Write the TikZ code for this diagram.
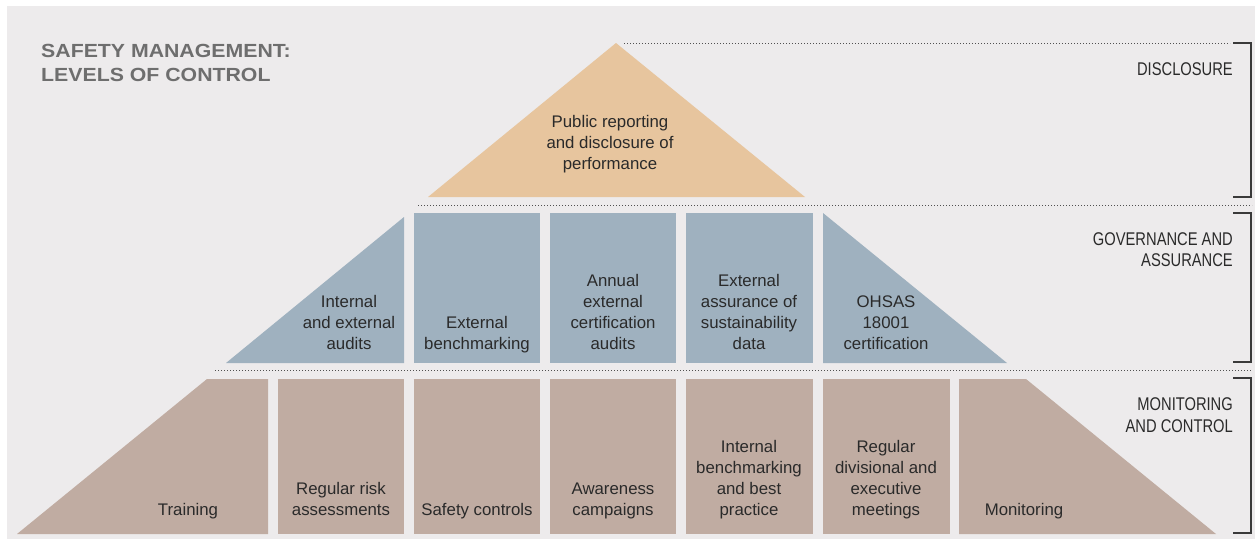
\documentclass[tikz,border=0pt]{standalone}
\usepackage{fontspec}
\setmainfont{Liberation Sans}
\newfontfamily\bodyf{Liberation Sans}
\newfontfamily\lvlf{Liberation Sans}[FakeStretch=0.8]
\newfontfamily\titlef{Liberation Sans}[FakeStretch=1.12]
\definecolor{bgc}{HTML}{EDEBEC}
\definecolor{tanc}{HTML}{E7C59E}
\definecolor{bluec}{HTML}{9FB1BF}
\definecolor{brownc}{HTML}{C0ACA2}
\definecolor{txtc}{HTML}{2A2A2A}
\definecolor{titc}{HTML}{6E6E6E}
\definecolor{brkc}{HTML}{3A3A3A}
\definecolor{dotc}{HTML}{505050}
\tikzset{
  tiertop/.style={fill=tanc},
  tiermid/.style={fill=bluec},
  tierlow/.style={fill=brownc},
  lbl/.style={font=\bodyf\fontsize{16.8}{21}\selectfont, text=txtc, align=center, inner sep=0pt, anchor=base},
  lvl/.style={font=\lvlf\fontsize{18.4}{21.3}\selectfont, text=txtc, align=right, inner sep=0pt, anchor=base east},
  ttl/.style={font=\titlef\bfseries\fontsize{19}{24}\selectfont, text=titc, align=left, inner sep=0pt, anchor=base west},
  dotrule/.style={draw=dotc, line width=1pt, dash pattern=on 1pt off 2pt},
  bracketline/.style={draw=brkc, line width=1.3pt}
}
\begin{document}
\begin{tikzpicture}[x=1pt,y=-1pt]
\useasboundingbox (0,0) rectangle (1255,546);
\fill[bgc] (7,6) rectangle (1255,539);
% top tier
\fill[tiertop] (428,197) -- (616,43) -- (805,197) -- cycle;
% middle tier
\fill[tiermid] (226,363) -- (404,217) -- (404,363) -- cycle;
\fill[tiermid] (414,213) rectangle (540,363);
\fill[tiermid] (550,213) rectangle (676,363);
\fill[tiermid] (686,213) rectangle (813,363);
\fill[tiermid] (823,213) -- (1007,363) -- (823,363) -- cycle;
% lower tier
\fill[tierlow] (17,534) -- (207,379) -- (268,379) -- (268,534) -- cycle;
\fill[tierlow] (278,379) rectangle (404,534);
\fill[tierlow] (414,379) rectangle (540,534);
\fill[tierlow] (550,379) rectangle (676,534);
\fill[tierlow] (686,379) rectangle (813,534);
\fill[tierlow] (823,379) rectangle (950,534);
\fill[tierlow] (959,379) -- (1026,379) -- (1216,534) -- (959,534) -- cycle;
% dotted rules
\coordinate (d1a) at (624,43); \coordinate (d1b) at (1230,43);
\coordinate (d2a) at (418,205); \coordinate (d2b) at (1252,205);
\coordinate (d3a) at (215,370); \coordinate (d3b) at (1252,370);
\draw[dotrule] (d1a) -- (d1b);
\draw[dotrule] (d2a) -- (d2b);
\draw[dotrule] (d3a) -- (d3b);
% brackets
\draw[bracketline] (1233,43) -- (1251,43) -- (1251,197) -- (1233,197);
\draw[bracketline] (1233,213) -- (1251,213) -- (1251,362) -- (1233,362);
\draw[bracketline] (1233,378) -- (1251,378) -- (1251,533) -- (1233,533);
% title
\node[ttl] (title) at (41,81) {SAFETY MANAGEMENT:\\LEVELS OF CONTROL};
% level labels
\node[lvl] (lv1) at (1233,75) {DISCLOSURE};
\node[lvl] (lv2) at (1233,266.5) {GOVERNANCE AND\\ASSURANCE};
\node[lvl] (lv3) at (1233,432) {MONITORING\\AND CONTROL};
% top text
\node[lbl] (t1) at (610,169) {Public reporting\\and disclosure of\\performance};
% middle texts
\node[lbl] (m1) at (349,349) {Internal\\and external\\audits};
\node[lbl] (m2) at (477,349) {External\\benchmarking};
\node[lbl] (m3) at (613,349) {Annual\\external\\certification\\audits};
\node[lbl] (m4) at (749,349) {External\\assurance of\\sustainability\\data};
\node[lbl] (m5) at (886,349) {OHSAS\\18001\\certification};
% lower texts
\node[lbl] (b1) at (188,515) {Training};
\node[lbl] (b2) at (341,515) {Regular risk\\assessments};
\node[lbl] (b3) at (477,515) {Safety controls};
\node[lbl] (b4) at (613,515) {Awareness\\campaigns};
\node[lbl] (b5) at (749,515) {Internal\\benchmarking\\and best\\practice};
\node[lbl] (b6) at (886,515) {Regular\\divisional and\\executive\\meetings};
\node[lbl] (b7) at (1024,515) {Monitoring};
\end{tikzpicture}
\end{document}
